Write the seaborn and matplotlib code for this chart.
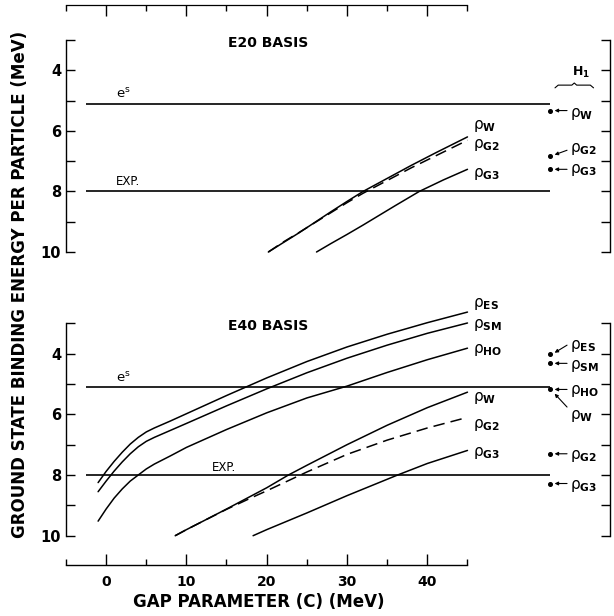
import matplotlib
matplotlib.use("Agg")
import matplotlib.pyplot as plt
import seaborn as sns
import numpy as np

# ---------------- data ----------------
# E20 basis (upper panel)
e20_W_x = [20.2, 22, 24, 26, 28, 30, 32, 35, 38, 41, 45]
e20_W_y = [10.0, 9.70, 9.37, 9.02, 8.67, 8.33, 8.00, 7.57, 7.14, 6.73, 6.20]
e20_G2_x = [20.2, 22, 24, 26, 28, 30, 32, 35, 38, 41, 45]
e20_G2_y = [10.0, 9.68, 9.36, 9.03, 8.70, 8.37, 8.06, 7.64, 7.22, 6.83, 6.31]
e20_G3_x = [26.2, 28, 30, 32, 34, 36, 39, 42, 45]
e20_G3_y = [10.0, 9.72, 9.42, 9.11, 8.79, 8.47, 8.00, 7.62, 7.27]

# E40 basis (lower panel)
e40_ES_x = [-1, 0, 1, 2, 3, 4, 5, 6, 8, 10, 15, 20, 25, 30, 35, 40, 45]
e40_ES_y = [8.25, 7.88, 7.55, 7.25, 6.98, 6.76, 6.58, 6.45, 6.22, 5.98, 5.38, 4.80, 4.26, 3.78, 3.36, 2.98, 2.63]
e40_SM_x = [-1, 0, 1, 2, 3, 4, 5, 6, 8, 10, 15, 20, 25, 30, 35, 40, 45]
e40_SM_y = [8.55, 8.20, 7.87, 7.57, 7.30, 7.07, 6.89, 6.76, 6.53, 6.30, 5.72, 5.16, 4.63, 4.15, 3.72, 3.33, 2.99]
e40_HO_x = [-1, 0, 1, 2, 3, 4, 5, 6, 8, 10, 15, 20, 25, 30, 35, 40, 45]
e40_HO_y = [9.52, 9.12, 8.76, 8.46, 8.20, 8.00, 7.80, 7.64, 7.37, 7.09, 6.50, 5.95, 5.46, 5.07, 4.62, 4.20, 3.82]
e40_W_x = [8.6, 10, 12, 15, 18, 20, 22.7, 25, 30, 35, 40, 45]
e40_W_y = [10.0, 9.80, 9.53, 9.12, 8.70, 8.42, 8.00, 7.68, 7.00, 6.36, 5.78, 5.27]
e40_G2_x = [8.6, 10, 12, 15, 18, 20, 25, 30, 35, 40, 45]
e40_G2_y = [10.0, 9.80, 9.53, 9.13, 8.76, 8.52, 7.90, 7.32, 6.85, 6.45, 6.10]
e40_G3_x = [18.3, 20, 25, 30, 36.3, 40, 45]
e40_G3_y = [10.0, 9.80, 9.25, 8.68, 8.00, 7.62, 7.19]

# reference levels
es_level = 5.1
exp_level = 8.0

# H1 values (right-hand column)
h1_e20_names = ["W", "G2", "G3"]
h1_e20_vals = [5.33, 6.83, 7.27]
h1_e40_names = ["ES", "SM", "HO", "G2", "G3"]
h1_e40_vals = [4.02, 4.32, 5.18, 7.30, 8.28]

x_ticks = [0, 10, 20, 30, 40]
y_ticks = [3, 4, 5, 6, 7, 8, 9, 10]
y_ticklabels = ["", "4", "", "6", "", "8", "", "10"]

# ---------------- figure ----------------
sns.set_theme(style="white")
plt.rcParams["font.family"] = ["DejaVu Sans"]
plt.rcParams["mathtext.fontset"] = "dejavusans"
for key in ["text.color", "axes.labelcolor", "xtick.color", "ytick.color", "axes.edgecolor"]:
    plt.rcParams[key] = "black"

W, H = 614, 616
fig = plt.figure(figsize=(W / 100, H / 100), dpi=100)
fig.patch.set_facecolor("white")


def fx(px):
    return px / W


def fy(py):
    return 1 - py / H


XL = (-5, 62.75)
K = "black"


def make_panel(top_px, bot_px):
    ax = fig.add_axes([fx(66), fy(bot_px), fx(610) - fx(66), fy(top_px) - fy(bot_px)])
    ax.patch.set_alpha(0)
    for s in ["top", "bottom"]:
        ax.spines[s].set_visible(False)
    for s in ["left", "right"]:
        ax.spines[s].set_visible(True)
        ax.spines[s].set_color(K)
        ax.spines[s].set_linewidth(1.0)
    return ax


def finish_panel(ax):
    ax.set_xlim(*XL)
    ax.set_ylim(10, 3)
    ax.set_xticks([])
    ax.set_yticks(y_ticks)
    ax.set_yticklabels(y_ticklabels)
    ax.tick_params(axis="y", which="both", direction="in", length=6.5, width=1.0,
                   left=True, right=True, labelleft=True, labelright=False,
                   labelsize=10.5, pad=3.5, colors=K)
    for lb in ax.get_yticklabels():
        lb.set_fontweight("bold")
    ax.set_xlabel("")
    ax.set_ylabel("")


def curve(ax, xs, ys, dashed=False):
    kw = dict(color=K, linewidth=1.1, sort=False, estimator=None, ax=ax, clip_on=False)
    if dashed:
        kw["linestyle"] = (0, (7.5, 4))
    sns.lineplot(x=xs, y=ys, **kw)


def rho(sub):
    return r"$\mathrm{\rho}_{\mathbf{" + sub + r"}}$"


line_x0, line_x1 = -2.45, 55.27
dot_x = 55.3
arrow_head_x, arrow_tail_x = 55.85, 57.4
lab_x = 57.8


def arrow(ax, y_head, y_tail):
    ax.annotate("", xy=(arrow_head_x, y_head), xytext=(arrow_tail_x, y_tail),
                arrowprops=dict(arrowstyle="-|>", color=K, lw=0.8, mutation_scale=5,
                                shrinkA=0, shrinkB=0))


# ---------- upper panel (E20) ----------
ax1 = make_panel(40, 252)
curve(ax1, e20_W_x, e20_W_y)
curve(ax1, e20_G2_x, e20_G2_y, dashed=True)
curve(ax1, e20_G3_x, e20_G3_y)
ax1.hlines([es_level, exp_level], line_x0, line_x1, color=K, lw=1.2)
finish_panel(ax1)

ax1.text(20.2, 3.22, "E20 BASIS", ha="center", va="baseline", fontsize=10, fontweight="bold")
ax1.text(1.2, 4.9, r"$\mathrm{e}^{\mathrm{s}}$", fontsize=9.5, va="baseline")
ax1.text(1.2, 7.79, "EXP.", fontsize=8.5, va="baseline")
ax1.text(45.7, 5.95, rho("W"), fontsize=11, va="baseline")
ax1.text(45.7, 6.57, rho("G2"), fontsize=11, va="baseline")
ax1.text(45.7, 7.52, rho("G3"), fontsize=11, va="baseline")

ax1.plot([dot_x] * len(h1_e20_vals), h1_e20_vals, "o", color=K, ms=2.6, clip_on=False)
# labels + arrows
ax1.text(lab_x, 5.55, rho("W"), fontsize=11, va="baseline")
arrow(ax1, 5.33, 5.33)
ax1.text(lab_x, 6.69, rho("G2"), fontsize=11, va="baseline")
arrow(ax1, 6.79, 6.64)
ax1.text(lab_x, 7.40, rho("G3"), fontsize=11, va="baseline")
arrow(ax1, 7.27, 7.27)
# H1 with brace
ax1.text(59.2, 4.18, r"$\mathbf{H}_{\mathbf{1}}$", ha="center", va="baseline", fontsize=9)
bx = [55.9, 56.3, 58.0, 58.3, 58.6, 60.3, 60.7]
by = [4.58, 4.49, 4.49, 4.42, 4.49, 4.49, 4.58]
ax1.plot(bx, by, color=K, lw=0.8, clip_on=False)

# ---------- lower panel (E40) ----------
ax2 = make_panel(323.3, 535.7)
curve(ax2, e40_ES_x, e40_ES_y)
curve(ax2, e40_SM_x, e40_SM_y)
curve(ax2, e40_HO_x, e40_HO_y)
curve(ax2, e40_W_x, e40_W_y)
curve(ax2, e40_G2_x, e40_G2_y, dashed=True)
curve(ax2, e40_G3_x, e40_G3_y)
ax2.hlines([es_level, exp_level], line_x0, line_x1, color=K, lw=1.2)
finish_panel(ax2)

ax2.text(20.2, 3.22, "E40 BASIS", ha="center", va="baseline", fontsize=10, fontweight="bold")
ax2.text(1.2, 4.93, r"$\mathrm{e}^{\mathrm{s}}$", fontsize=9.5, va="baseline")
ax2.text(13.2, 7.88, "EXP.", fontsize=8.5, va="baseline")
for sub, yb in [("ES", 2.45), ("SM", 3.17), ("HO", 3.99), ("W", 5.56), ("G2", 6.44), ("G3", 7.36)]:
    ax2.text(45.7, yb, rho(sub), fontsize=11, va="baseline")

ax2.plot([dot_x] * len(h1_e40_vals), h1_e40_vals, "o", color=K, ms=2.6, clip_on=False)
ax2.text(lab_x, 3.86, rho("ES"), fontsize=11, va="baseline")
arrow(ax2, 3.97, 3.72)
ax2.text(lab_x, 4.49, rho("SM"), fontsize=11, va="baseline")
arrow(ax2, 4.32, 4.32)
ax2.text(lab_x, 5.32, rho("HO"), fontsize=11, va="baseline")
arrow(ax2, 5.18, 5.18)
ax2.text(lab_x, 6.15, rho("W"), fontsize=11, va="baseline")
arrow(ax2, 5.32, 5.76)
ax2.text(lab_x, 7.47, rho("G2"), fontsize=11, va="baseline")
arrow(ax2, 7.30, 7.30)
ax2.text(lab_x, 8.46, rho("G3"), fontsize=11, va="baseline")
arrow(ax2, 8.28, 8.28)

# ---------- bottom x axis ----------
axb = fig.add_axes([fx(66), fy(565), fx(467) - fx(66), 0.03])
axb.patch.set_alpha(0)
for s in ["top", "left", "right"]:
    axb.spines[s].set_visible(False)
axb.spines["bottom"].set_color(K)
axb.spines["bottom"].set_linewidth(1.0)
axb.set_xlim(-5, 45)
axb.set_yticks([])
axb.set_xticks(x_ticks)
axb.set_xticks([-5, 5, 15, 25, 35, 45], minor=True)
axb.tick_params(axis="x", which="major", direction="in", length=8, width=1.0,
                pad=7, labelsize=10, colors=K, bottom=True)
axb.tick_params(axis="x", which="minor", direction="in", length=4.5, width=1.0, bottom=True)
for lb in axb.get_xticklabels():
    lb.set_fontweight("bold")

# ---------- top x axis (no labels) ----------
axt = fig.add_axes([fx(66), fy(5) - 0.03, fx(467) - fx(66), 0.03])
axt.patch.set_alpha(0)
for s in ["bottom", "left", "right"]:
    axt.spines[s].set_visible(False)
axt.spines["top"].set_color(K)
axt.spines["top"].set_linewidth(0.9)
axt.set_xlim(-5, 45)
axt.set_yticks([])
axt.xaxis.tick_top()
axt.set_xticks(x_ticks)
axt.set_xticks([-5, 5, 15, 25, 35, 45], minor=True)
axt.tick_params(axis="x", which="major", direction="in", length=8, width=1.0,
                top=True, bottom=False, labeltop=False, labelbottom=False)
axt.tick_params(axis="x", which="minor", direction="in", length=4.5, width=1.0,
                top=True, bottom=False)

# ---------- axis titles ----------
fig.text(fx(258.7), fy(601.7), "GAP PARAMETER (C) (MeV)", ha="center", va="center",
         fontsize=12, fontweight="bold")
fig.text(fx(20), fy(284.5), "GROUND STATE BINDING ENERGY PER PARTICLE (MeV)",
         rotation=90, ha="center", va="center", fontsize=12, fontweight="bold")

fig.savefig("out.png", dpi=100, facecolor="white")
